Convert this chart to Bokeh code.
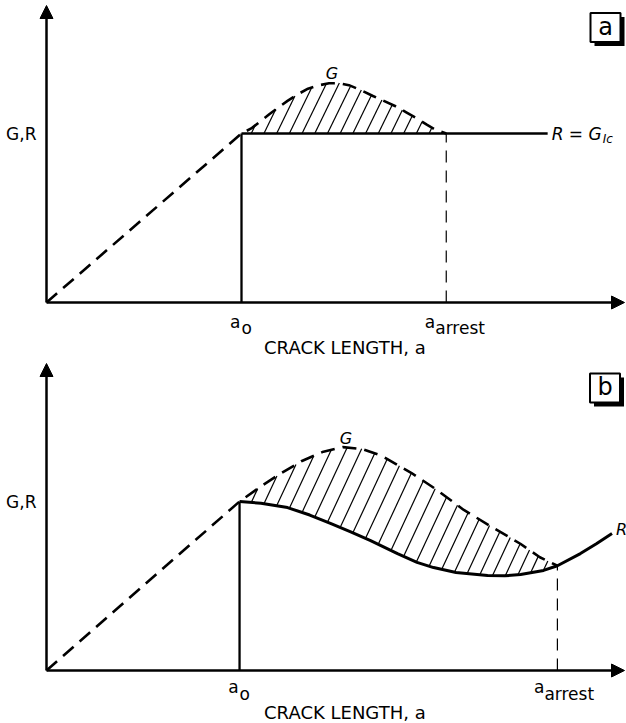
import numpy as np
from bokeh.plotting import figure
from bokeh.layouts import column
from bokeh.models import Range1d, Arrow, NormalHead
from bokeh.core.properties import value
from bokeh.embed import file_html
from bokeh.resources import INLINE

FONT = value("DejaVu Sans")

# ---------------- data : panel (a) ----------------
a0_a = 1.0
a_arrest_a = 2.05
G_Ic = 1.0
R_end_a = 2.57
Ga_x = [0.0, 1.0, 1.05, 1.10, 1.144, 1.19, 1.236, 1.29, 1.341, 1.395, 1.449, 1.50,
        1.551, 1.61, 1.674, 1.73, 1.787, 1.845, 1.905, 1.95, 1.995, 2.05]
Ga_y = [0.0, 1.0, 1.03, 1.075, 1.115, 1.155, 1.193, 1.233, 1.265, 1.285, 1.297, 1.298,
        1.286, 1.258, 1.222, 1.193, 1.163, 1.125, 1.085, 1.052, 1.022, 1.0]
Ra_x = [a0_a, R_end_a]
Ra_y = [G_Ic, G_Ic]

# ---------------- data : panel (b) ----------------
a0_b = 0.99
a_arrest_b = 2.62
Gb_x = [0.0, 0.99, 1.10, 1.20, 1.31, 1.42, 1.52, 1.62, 1.72, 1.87, 2.00, 2.14,
        2.29, 2.43, 2.53, 2.62]
Gb_y = [0.0, 1.0, 1.09, 1.165, 1.24, 1.295, 1.322, 1.31, 1.27, 1.17, 1.07, 0.95,
        0.845, 0.75, 0.67, 0.62]
Rb_x = [0.99, 1.10, 1.236, 1.35, 1.456, 1.56, 1.662, 1.80, 1.90, 1.985, 2.10, 2.262,
        2.35, 2.431, 2.549, 2.62, 2.738, 2.82, 2.90]
Rb_y = [1.0, 0.99, 0.964, 0.92, 0.870, 0.82, 0.769, 0.692, 0.64, 0.609, 0.58, 0.562,
        0.56, 0.568, 0.592, 0.62, 0.692, 0.75, 0.81]

# ---------------- layout constants ----------------
PX_X = 195.0   # pixels per unit of crack length
PX_Y = 169.0   # pixels per unit of G,R
W = 626
HA, HB = 360, 363
ORIG_X = 46
X_RANGE = (-ORIG_X / PX_X, (W - ORIG_X) / PX_X)
X_AXIS_END = (624 - ORIG_X) / PX_X


def hatch_segments(rx, ry, gx, gy, x_lo, x_hi, step_px, angle):
    cot = 1.0 / np.tan(np.radians(angle))
    h = np.arange(0.0, 250.0, 0.2)
    x0, y0, x1, y1 = [], [], [], []
    for xb in np.arange(x_lo, x_hi, step_px / PX_X):
        yb = np.interp(xb, rx, ry)
        xl = xb + h * cot / PX_X
        yl = yb + h / PX_Y
        gl = np.interp(xl, gx, gy)
        below = yl < gl
        if not below[1:].any():
            continue
        fb = int(np.argmax(below[1:])) + 1
        after = np.nonzero(~below[fb:])[0]
        if len(after) == 0:
            continue
        k = fb + after[0]
        if h[k] < 2:
            continue
        x0.append(xb); y0.append(yb); x1.append(xl[k]); y1.append(yl[k])
    return x0, y0, x1, y1


def base_fig(h, y0_px):
    p = figure(width=W, height=h, output_backend="svg", toolbar_location=None,
               x_range=Range1d(*X_RANGE),
               y_range=Range1d(-(h - y0_px) / PX_Y, y0_px / PX_Y),
               min_border=0, background_fill_color="white",
               border_fill_color="white")
    p.axis.visible = False
    p.grid.visible = False
    p.outline_line_color = None
    return p


def axes(p, ytop):
    for xe, ye in [(X_AXIS_END, 0.0), (0.0, ytop)]:
        p.add_layout(Arrow(end=NormalHead(size=13, fill_color="black",
                                          line_color="black", line_width=1),
                           x_start=0, y_start=0, x_end=xe, y_end=ye,
                           line_width=2.5, line_color="black"))


def txt(p, x, y, s, size="17px", align="left", baseline="alphabetic",
        dx=0, dy=0, style="normal"):
    p.text(x=[x], y=[y], text=[s], x_offset=dx, y_offset=dy,
           text_align=align, text_baseline=baseline, text_font=FONT,
           text_font_size=size, text_font_style=style, text_color="black")


def tag_box(p, xc, yc, letter):
    sx, sy = 4 / PX_X, 4 / PX_Y
    p.rect(x=[xc + sx], y=[yc - sy], width=30, height=29, width_units="screen",
           height_units="screen", fill_color="black", line_color=None)
    p.rect(x=[xc], y=[yc], width=30, height=29, width_units="screen",
           height_units="screen", fill_color="white", line_color="black",
           line_width=2)
    txt(p, xc, yc, letter, size="24px", align="center", baseline="middle", dy=-1)


# ======================= panel (a) =======================
pa = base_fig(HA, 302)
axes(pa, (302 - 5) / PX_Y)
hx0, hy0, hx1, hy1 = hatch_segments(Ra_x, Ra_y, Ga_x, Ga_y, a0_a + 0.05,
                                    a_arrest_a, 12.7, 64)
pa.segment(x0=hx0, y0=hy0, x1=hx1, y1=hy1, line_color="black", line_width=1.2)
pa.line(Ga_x, Ga_y, line_color="black", line_width=2.6, line_dash="14 8")
pa.line(Ra_x, Ra_y, line_color="black", line_width=2.5)
pa.line([a0_a, a0_a], [0, G_Ic], line_color="black", line_width=2.3)
pa.line([a_arrest_a, a_arrest_a], [0, G_Ic], line_color="black",
        line_width=1.2, line_dash="12 8")

txt(pa, 0, G_Ic, "G,R", align="right", baseline="middle", dx=-10)
txt(pa, a0_a, 0, "a", align="right", dx=-1, dy=19)
txt(pa, a0_a, 0, "o", align="left", dx=0, dy=25)
txt(pa, a_arrest_a, 0, "a", align="right", dx=-11, dy=19)
txt(pa, a_arrest_a, 0, "arrest", align="left", dx=-11, dy=25)
txt(pa, 1.53, 0, "CRACK LENGTH, a", size="18px", align="center", dy=45)
ka = int(np.argmax(Ga_y))
txt(pa, Ga_x[ka], Ga_y[ka], "G", size="16px", align="center", dx=-7, dy=-10,
    style="italic")
txt(pa, R_end_a, G_Ic, "R = G", size="17px", align="left", baseline="middle",
    dx=4, style="italic")
txt(pa, R_end_a, G_Ic, "Ic", size="12px", align="left", baseline="middle",
    dx=55, dy=5, style="italic")
tag_box(pa, (605 - ORIG_X) / PX_X, (302 - 27) / PX_Y, "a")

# ======================= panel (b) =======================
pb = base_fig(HB, 310)
axes(pb, (670 - 363) / PX_Y)
hx0, hy0, hx1, hy1 = hatch_segments(Rb_x, Rb_y, Gb_x, Gb_y, a0_b + 0.06,
                                    a_arrest_b, 12.7, 65)
pb.segment(x0=hx0, y0=hy0, x1=hx1, y1=hy1, line_color="black", line_width=1.2)
pb.line(Gb_x, Gb_y, line_color="black", line_width=2.6, line_dash="14 8")
pb.line(Rb_x, Rb_y, line_color="black", line_width=3)
pb.line([a0_b, a0_b], [0, Rb_y[0]], line_color="black", line_width=2.3)
pb.line([a_arrest_b, a_arrest_b], [0, Rb_y[Rb_x.index(a_arrest_b)]],
        line_color="black", line_width=1.2, line_dash="12 8")

txt(pb, 0, Rb_y[0], "G,R", align="right", baseline="middle", dx=-10)
txt(pb, a0_b, 0, "a", align="right", dx=-1, dy=16)
txt(pb, a0_b, 0, "o", align="left", dx=0, dy=23)
txt(pb, a_arrest_b, 0, "a", align="right", dx=-13, dy=16)
txt(pb, a_arrest_b, 0, "arrest", align="left", dx=-13, dy=23)
txt(pb, 1.53, 0, "CRACK LENGTH, a", size="18px", align="center", dy=42)
kb = int(np.argmax(Gb_y))
txt(pb, Gb_x[kb], Gb_y[kb], "G", size="16px", align="center", dx=3, dy=-9,
    style="italic")
txt(pb, Rb_x[-1], Rb_y[-1], "R", size="16px", align="left", baseline="middle",
    dx=4, dy=-4, style="italic")
tag_box(pb, (604.5 - ORIG_X) / PX_X, (670 - 387.5) / PX_Y, "b")

layout = column(pa, pb, spacing=0)
open("out.html", "w").write(file_html(layout, INLINE))
